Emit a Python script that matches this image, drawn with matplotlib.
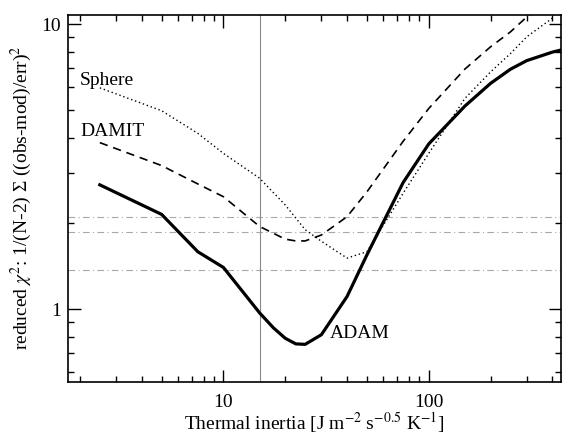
import matplotlib
matplotlib.use("Agg")
import matplotlib.pyplot as plt
from matplotlib.ticker import LogLocator, NullFormatter, FixedLocator, FixedFormatter

plt.rcParams['font.family'] = ['Liberation Serif', 'DejaVu Serif']
plt.rcParams['mathtext.fontset'] = 'stix'

# Thermal inertia grid
ti_adam = [2.5, 5, 7.5, 10, 15, 17.5, 20, 22.5, 25, 30, 40, 50, 75, 100, 150, 200, 250, 300, 400, 500]
chi_adam = [2.73, 2.15, 1.59, 1.40, 0.97, 0.86, 0.79, 0.755, 0.752, 0.813, 1.107, 1.55, 2.78, 3.80,
            5.16, 6.2, 6.95, 7.45, 7.98, 8.3]

ti_damit = [2.5, 5, 7.5, 10, 15, 20, 22.5, 25, 30, 40, 50, 75, 100, 150, 200, 250, 300, 400]
chi_damit = [3.84, 3.19, 2.75, 2.48, 1.95, 1.76, 1.735, 1.735, 1.82, 2.11, 2.58, 3.88, 5.06,
             6.96, 8.33, 9.4, 10.6, 12.5]

ti_sphere = [2.5, 5, 7.5, 10, 15, 20, 25, 30, 40, 50, 75, 100, 150, 200, 250, 300, 400]
chi_sphere = [5.98, 4.97, 4.14, 3.52, 2.88, 2.32, 1.90, 1.73, 1.51, 1.59, 2.55, 3.52, 5.49,
              6.8, 7.89, 9.03, 10.5]

hlines = [2.10, 1.87, 1.37]
vline = 15

fig = plt.figure(figsize=(5.62, 4.37), dpi=100)
ax = fig.add_axes([0.121, 0.1265, 0.877, 0.8399])

for y in hlines:
    ax.axhline(y, color='#a8a8a8', lw=0.8, ls=(0, (6, 3, 1, 3)), zorder=1)
ax.axvline(vline, color='#8a8a8a', lw=0.8, zorder=1)

ax.plot(ti_adam, chi_adam, color='black', lw=2.3, solid_joinstyle='round', zorder=3)
ax.plot(ti_damit, chi_damit, color='black', lw=1.2, ls=(0, (5, 3.5)), zorder=3)
ax.plot(ti_sphere, chi_sphere, color='black', lw=1.0, ls=(0, (1, 2)), zorder=3)

ax.set_xscale('log')
ax.set_yscale('log')
ax.set_xlim(1.75, 440)
ax.set_ylim(0.556, 10.8)

ax.xaxis.set_major_locator(FixedLocator([10, 100]))
ax.xaxis.set_major_formatter(FixedFormatter(['10', '100']))
ax.xaxis.set_minor_locator(LogLocator(base=10, subs=range(2, 10), numticks=20))
ax.xaxis.set_minor_formatter(NullFormatter())
ax.yaxis.set_major_locator(FixedLocator([1, 10]))
ax.yaxis.set_major_formatter(FixedFormatter(['1', '10']))
ax.yaxis.set_minor_locator(LogLocator(base=10, subs=range(2, 10), numticks=20))
ax.yaxis.set_minor_formatter(NullFormatter())

ax.tick_params(which='both', direction='in', top=True, right=True, width=1.0, labelsize=14)
ax.tick_params(which='major', length=9)
ax.tick_params(which='minor', length=4.5)
ax.tick_params(axis='x', pad=9)
ax.tick_params(axis='y', pad=5)
for s in ax.spines.values():
    s.set_linewidth(1.2)

ax.text(2.0, 6.35, 'Sphere', fontsize=14, va='center', ha='left')
ax.text(2.0, 4.2, 'DAMIT', fontsize=14, va='center', ha='left')
ax.text(33, 0.82, 'ADAM', fontsize=14, va='center', ha='left')

ax.set_xlabel(r'Thermal inertia [J m$^{-2}$ s$^{-0.5}$ K$^{-1}$]', fontsize=14, labelpad=0)
ax.set_ylabel(r'reduced $\chi^2$: 1/(N-2) Σ ((obs-mod)/err)$^2$', fontsize=14, labelpad=5)

fig.savefig('out.png', dpi=100)
